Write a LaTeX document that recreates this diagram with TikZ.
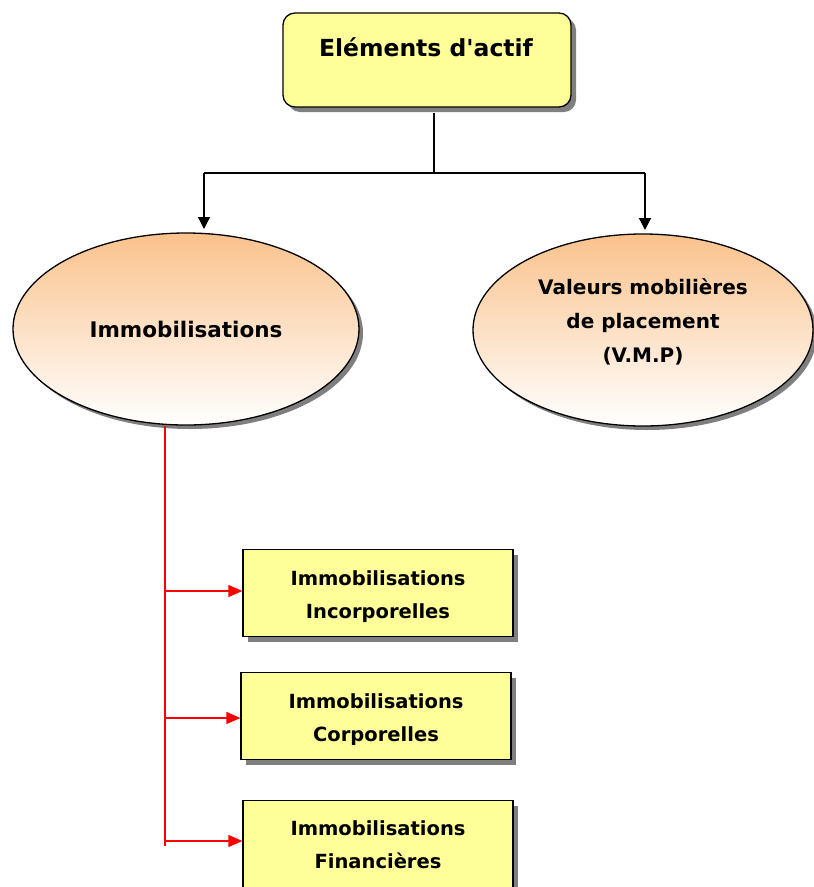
\documentclass[tikz,border=0pt]{standalone}
\usepackage{fontspec}
\setmainfont{DejaVu Sans}[UprightFont=* Bold]
\usetikzlibrary{shapes.geometric,shadows,arrows.meta}
\definecolor{boxyellow}{HTML}{FFFF99}
\definecolor{peach}{HTML}{FAC28C}
\definecolor{shadowgray}{HTML}{7F7F7F}
\tikzset{
  lbl/.style={font=\fontsize{23.5}{28}\selectfont, align=center, inner sep=0pt},
  sh/.style={drop shadow={shadow xshift=5pt, shadow yshift=-5pt, fill=shadowgray, opacity=1}},
  topbox/.style={draw=black, line width=1.3pt, fill=boxyellow, rounded corners=12pt, sh},
  subbox/.style={draw=black, line width=1.3pt, fill=boxyellow, sh, minimum width=270pt, minimum height=87pt, inner sep=0pt, align=center, font=\fontsize{19.5}{33}\selectfont},
  oval/.style={ellipse, draw=black, line width=1.3pt, top color=peach, bottom color=white, drop shadow={shadow xshift=4pt, shadow yshift=-4pt, fill=shadowgray, opacity=1}, inner sep=0pt, align=center},
  blk/.style={line width=1.3pt, -{Triangle[length=12pt,width=12pt]}},
  red/.style={draw=red, line width=1.3pt, -{Triangle[length=14pt,width=12pt]}},
}
\begin{document}
\begin{tikzpicture}[x=1pt,y=-1pt]
\useasboundingbox (0,0) rectangle (814,887);
% top box
\node[topbox, minimum width=288pt, minimum height=94pt, inner sep=0pt] (top) at (427,60) {};
\node[lbl] (toptext) at (426,47) {Eléments d\textquotesingle actif};
% ellipses
\node[oval, minimum width=346pt, minimum height=192pt, font=\fontsize{21.5}{26}\selectfont] (immo) at (186,329) {Immobilisations};
\node[oval, minimum width=340pt, minimum height=192pt, font=\fontsize{20}{34}\selectfont] (vmp) at (643,330) {Valeurs mobilières\\de placement\\(V.M.P)\rule[-20pt]{0pt}{0pt}};
% connectors top
\coordinate (j) at (434,173);
\coordinate (jl) at (204,173);
\coordinate (jr) at (645,173);
\draw[line width=1.3pt] (434,113) -- (j);
\draw[line width=1.3pt] (jl) -- (jr);
\draw[blk] (jl) -- (204,229);
\draw[blk] (jr) -- (645,230);
% sub boxes
\node[subbox] (b1) at (378,593) {\rule{0pt}{23pt}Immobilisations\\Incorporelles};
\node[subbox] (b2) at (376,716) {\rule{0pt}{23pt}Immobilisations\\Corporelles};
\node[subbox] (b3) at (378,844) {\rule{0pt}{17pt}Immobilisations\\Financières};
% red connectors
\coordinate (r0) at (165,426);
\coordinate (rend) at (165,846);
\draw[draw=red, line width=1.3pt] (r0) -- (rend);
\draw[red] (165,591) -- (b1.west |- 0,591);
\draw[red] (165,718) -- (b2.west |- 0,718);
\draw[red] (165,841) -- (b3.west |- 0,841);
\end{tikzpicture}
\end{document}
